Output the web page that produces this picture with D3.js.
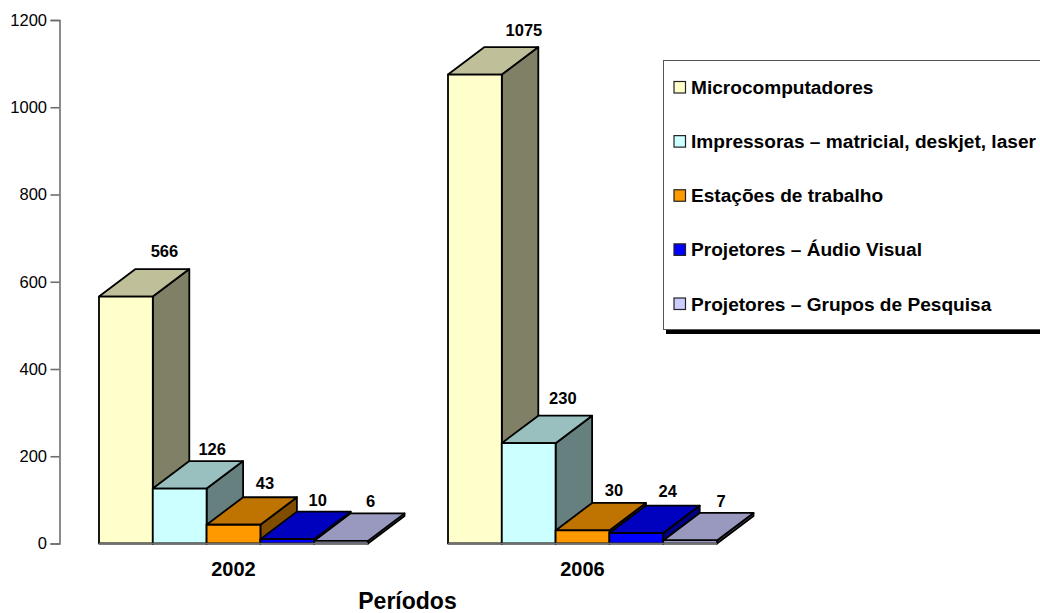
<!DOCTYPE html>
<html>
<head>
<meta charset="utf-8">
<script src="https://cdn.jsdelivr.net/npm/d3@7"></script>
<style>
 html, body { margin: 0; padding: 0; background: #fff; overflow: hidden; }
 svg { display: block; }
 text { font-family: "Liberation Sans", Arial, sans-serif; fill: #000; }
</style>
</head>
<body>
<svg></svg>
<script>
const width = 1040;
const height = 613;

// dados
const periodos = ["2002", "2006"];
const categorias = [
 "Microcomputadores",
 "Impressoras – matricial, deskjet, laser",
 "Estações de trabalho",
 "Projetores – Áudio Visual",
 "Projetores – Grupos de Pesquisa"
];
const valores2002 = [566, 126, 43, 10, 6];
const valores2006 = [1075, 230, 30, 24, 7];
const yTicks = [0, 200, 400, 600, 800, 1000, 1200];

// cores: frente, topo, lateral
const coresFrente = ["#FFFFCC", "#CCFFFF", "#FF9900", "#0000FF", "#CCCCFF"];
const coresTopo = ["#BFBF99", "#99BFBF", "#BF7300", "#0000BF", "#9999BF"];
const coresLado = ["#808066", "#668080", "#804D00", "#000080", "#666680"];

const dx = 36.5;
const dy = -27.5;

// ajuste manual dos rotulos [dx, dy], o original nao e regular
const ajusteRotulos = {
 "2002": [[2, 0], [-4, 6], [-5, 4], [-6, 6], [-7, 5.6]],
 "2006": [[12.5, 1], [-2.4, 0], [-5, 4.7], [-5, 3.5], [-5.6, 6]]
};

let svg = d3.select("svg")
 .attr("width", width)
 .attr("height", height);

let y = d3.scaleLinear().domain([0, 1200]).range([543.5, 20]);
let x0 = d3.scaleBand().domain(periodos).range([59, 757])
 .paddingInner(80 / 349).paddingOuter(40 / 349);
let x1 = d3.scaleBand().domain(categorias).range([0, x0.bandwidth()]);

// eixo y
let eixo = svg.append("g")
 .attr("transform", "translate(59.5,0)")
 .call(d3.axisLeft(y).tickValues(yTicks).tickSize(9).tickPadding(3.5).tickFormat(d3.format("d")));
eixo.selectAll("path, line").attr("stroke", "#6e6e6e").attr("stroke-width", 1.6);
eixo.selectAll("text").style("font-size", "16.5px").attr("fill", "#000");

// barras 3d, da esquerda para a direita
const dados = { "2002": valores2002, "2006": valores2006 };
periodos.forEach((p) => {
 let grupo = svg.append("g").attr("transform", `translate(${x0(p)},0)`);
 let w = x1.bandwidth();
 let base = y(0);
 dados[p].forEach((v, i) => {
  let xa = x1(categorias[i]);
  let top = y(v);
  let barra = grupo.append("g")
   .attr("stroke", "#000")
   .attr("stroke-width", 1.8)
   .attr("stroke-linejoin", "round");
  // lateral
  barra.append("path")
   .attr("d", `M${xa + w},${base}L${xa + w + dx},${base + dy}L${xa + w + dx},${top + dy}L${xa + w},${top}Z`)
   .attr("fill", coresLado[i]);
  // topo
  barra.append("path")
   .attr("d", `M${xa},${top}L${xa + dx},${top + dy}L${xa + w + dx},${top + dy}L${xa + w},${top}Z`)
   .attr("fill", coresTopo[i]);
  // frente
  barra.append("rect")
   .attr("x", xa).attr("y", top)
   .attr("width", w).attr("height", base - top)
   .attr("fill", coresFrente[i]);
 });
 // rotulos por cima de tudo
 dados[p].forEach((v, i) => {
  let aj = ajusteRotulos[p][i];
  grupo.append("text")
   .attr("x", x1(categorias[i]) + w / 2 + dx + aj[0])
   .attr("y", y(v) + dy - 12 + aj[1])
   .attr("text-anchor", "middle")
   .style("font-size", "16.5px")
   .style("font-weight", "bold")
   .text(v);
 });
 // linha de base cinza
 grupo.append("line")
  .attr("x1", 0).attr("x2", x0.bandwidth())
  .attr("y1", base).attr("y2", base)
  .attr("stroke", "#6e6e6e").attr("stroke-width", 1.4);
 // periodo
 svg.append("text")
  .attr("x", x0(p) + x0.bandwidth() / 2)
  .attr("y", 576)
  .attr("text-anchor", "middle")
  .style("font-size", "20px")
  .style("font-weight", "bold")
  .text(p);
});

// titulo do eixo
svg.append("text")
 .attr("x", 407.5)
 .attr("y", 609)
 .attr("text-anchor", "middle")
 .style("font-size", "23px")
 .style("font-weight", "bold")
 .text("Períodos");

// legenda
let legenda = svg.append("g");
legenda.append("rect")
 .attr("x", 666).attr("y", 63).attr("width", 400).attr("height", 271)
 .attr("fill", "#000");
legenda.append("rect")
 .attr("x", 663.5).attr("y", 60.5).attr("width", 400).attr("height", 269)
 .attr("fill", "#fff").attr("stroke", "#555").attr("stroke-width", 1);

let yLegenda = d3.scalePoint().domain(categorias).range([87.5, 304]);
categorias.forEach((c, i) => {
 legenda.append("rect")
  .attr("x", 674).attr("y", yLegenda(c) - 6)
  .attr("width", 11.5).attr("height", 11.5)
  .attr("fill", coresFrente[i])
  .attr("stroke", "#222").attr("stroke-width", 1.2);
 legenda.append("text")
  .attr("x", 691).attr("y", yLegenda(c) + 6.5)
  .style("font-size", "19.1px")
  .style("font-weight", "bold")
  .text(c);
});
</script>
</body>
</html>
